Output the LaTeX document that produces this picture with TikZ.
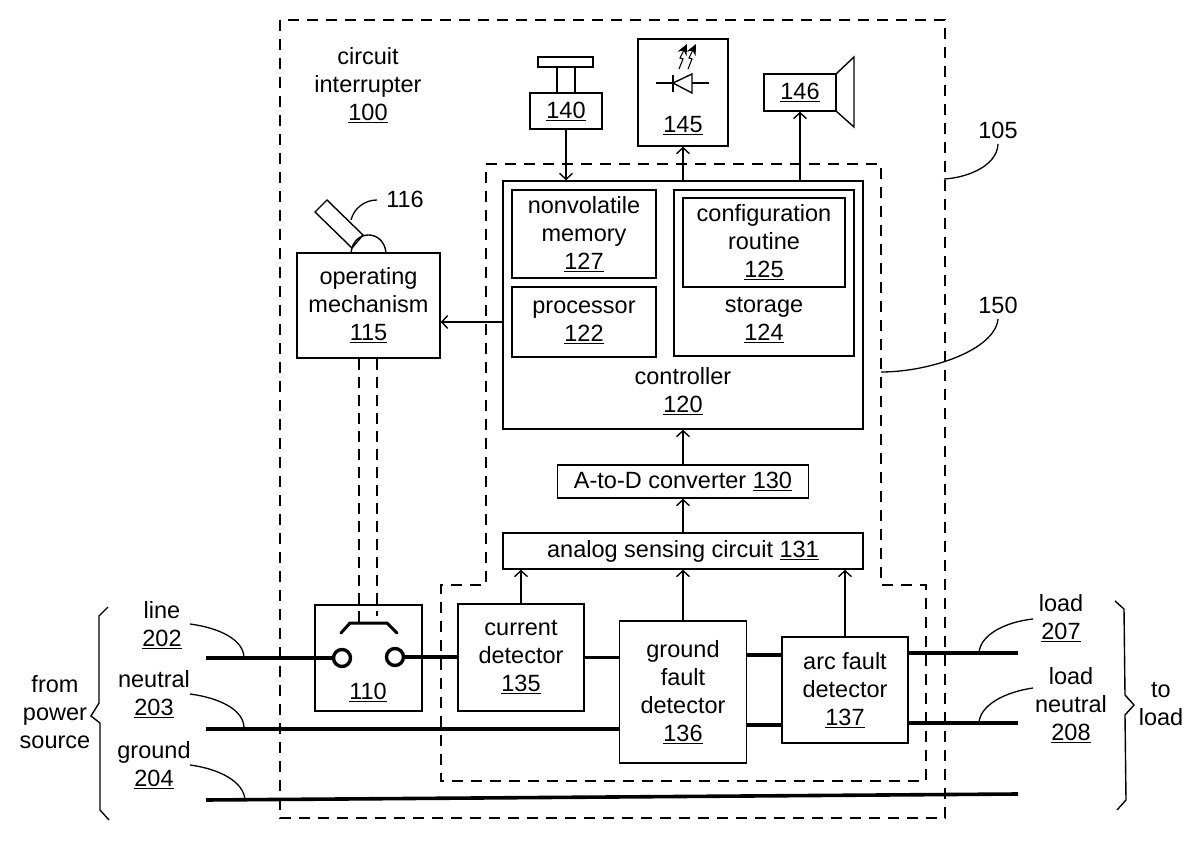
\documentclass[tikz,border=0pt]{standalone}
\usepackage{fontspec}
\setmainfont{Liberation Sans}
\usetikzlibrary{arrows.meta}
\tikzset{
  unit/.style={draw, line width=1.5pt, align=center, inner sep=0pt,
    font=\fontsize{23.5}{28}\selectfont},
  caption/.style={align=center, inner sep=0pt, font=\fontsize{23.5}{28}\selectfont},
  link/.style={line width=1.4pt, -{Straight Barb[length=6pt,width=13pt,line width=1.4pt]}},
  wire/.style={line width=3.6pt},
  leader/.style={line width=1.3pt},
  frame/.style={line width=1.5pt, dash pattern=on 11pt off 8pt},
  contact/.style={circle, draw, line width=3.4pt, fill=white, minimum size=17pt, inner sep=0pt},
  brace/.style={line width=1.4pt}
}
\begin{document}
\begin{tikzpicture}[x=1pt, y=-1pt]
  \useasboundingbox (0,0) rectangle (1200,866);

  % Dashed enclosures
  \draw[frame] (280,20) rectangle (945,818);
  \draw[frame] (486,164) -- (881,164) -- (881,585) -- (926,585) -- (926,781)
    -- (441,781) -- (441,585) -- (486,585) -- cycle;

  % Outside of the controller
  \node[unit, minimum width=72pt, minimum height=36pt] (button) at (566,111) {\underline{140}};
  \node[unit, minimum width=90pt, minimum height=107pt] (led) at (683,92.5) {};
  \node[caption] (ledlabel) at (683,126) {\underline{145}};
  \node[unit, minimum width=72pt, minimum height=37pt] (speaker) at (800,92.5) {\underline{146}};

  % Button cap
  \draw[line width=1.4pt] (538,57) rectangle (593,67);
  \draw[line width=1.4pt] (557,67) -- (557,93) (575,67) -- (575,93);

  % Diode with light
  \draw[line width=1.4pt] (656,83) -- (709,83);
  \draw[line width=1.4pt, fill=white] (673,83) -- (692,74) -- (692,93) -- cycle;
  \draw[line width=1.4pt] (673,75) -- (673,92);
  \foreach \sx in {0,9}
    \draw[line width=1.1pt, -{Stealth[length=11pt,width=10pt]}, xshift=\sx pt]
      (679,69) -- (683,59) -- (680,58) -- (687,44);

  % Speaker cone
  \draw[line width=1.4pt] (836,74) -- (854,57) -- (854,127) -- (836,111);

  % Controller
  \node[unit, minimum width=360pt, minimum height=248pt] (controller) at (683,305) {};
  \node[caption] (controllerlabel) at (683,391) {controller\\\underline{120}};
  \node[unit, minimum width=144pt, minimum height=88pt] (memory) at (584,234)
    {nonvolatile\\memory\\\underline{127}};
  \node[unit, minimum width=144pt, minimum height=70pt] (processor) at (584,322)
    {processor\\\underline{122}};
  \node[unit, minimum width=180pt, minimum height=166pt] (storage) at (764,273) {};
  \node[caption] (storagelabel) at (764,320) {storage\\\underline{124}};
  \node[unit, minimum width=162pt, minimum height=89pt] (routine) at (764,242.5)
    {configuration\\routine\\\underline{125}};

  % Sensing chain
  \node[unit, minimum width=251pt, minimum height=33pt] (converter) at (683,481.5)
    {A-to-D converter \underline{130}};
  \node[unit, minimum width=360pt, minimum height=36pt] (analog) at (683,551)
    {analog sensing circuit \underline{131}};
  \node[unit, minimum width=126pt, minimum height=107pt] (current) at (521,657.5)
    {current\\detector\\\underline{135}};
  \node[unit, minimum width=127pt, minimum height=142pt] (gfault) at (683,692)
    {ground\\fault\\detector\\\underline{136}};
  \node[unit, minimum width=126pt, minimum height=106pt] (afault) at (845,690)
    {arc fault\\detector\\\underline{137}};

  % Mechanism and lever
  \node[unit, minimum width=143pt, minimum height=105pt] (mechanism) at (368.5,305.5)
    {operating\\mechanism\\\underline{115}};
  \draw[line width=1.4pt] (315,212) -- (327,200) -- (363,235) -- (352,248) -- cycle;
  \draw[line width=1.4pt] (351,253) .. controls (353,229) and (384,229) .. (386,253);

  % Switch
  \node[unit, minimum width=107pt, minimum height=106pt] (switch) at (368.5,658) {};
  \node[caption] (switchlabel) at (368,692) {\underline{110}};
  \node[contact] (contactin) at (342,658) {};
  \node[contact] (contactout) at (395,657) {};
  \draw[line width=3pt, line cap=round] (341,633) -- (350,623) -- (387,623) -- (397,633);
  \coordinate (bladeleft) at (359,623);
  \coordinate (bladeright) at (377,616);
  \draw[line width=1.3pt, dash pattern=on 11pt off 7pt] (mechanism.south -| bladeleft) -- (bladeleft);
  \draw[line width=1.3pt, dash pattern=on 11pt off 7pt] (mechanism.south -| bladeright) -- (bladeright);

  % Arrows
  \draw[link] (button.south) -- (button.south |- controller.north);
  \draw[link] (controller.north -| led.south) -- (led.south);
  \draw[link] (controller.north -| speaker.south) -- (speaker.south);
  \draw[link] (controller.west |- processor.west) -- (mechanism.east |- processor.west);
  \draw[link] (converter.north) -- (controller.south);
  \draw[link] (analog.north) -- (converter.south);
  \draw[link] (current.north) -- (current.north |- analog.south);
  \draw[link] (gfault.north) -- (gfault.north |- analog.south);
  \draw[link] (afault.north) -- (afault.north |- analog.south);

  % Line conductors
  \coordinate (linein) at (206,658);
  \coordinate (linemid) at (765,655);
  \coordinate (lineout) at (1018,653);
  \coordinate (neutralin) at (206,729);
  \coordinate (neutralmid) at (765,725);
  \coordinate (neutralout) at (1018,723);
  \coordinate (groundin) at (206,800);
  \coordinate (groundout) at (1018,794);
  \draw[wire] (linein) -- (contactin);
  \draw[wire] (contactout) -- (current.west |- contactout);
  \draw[wire] (current.east) -- (gfault.west |- current.east);
  \draw[wire] (gfault.east |- linemid) -- (afault.west |- linemid);
  \draw[wire] (afault.east |- lineout) -- (lineout);
  \draw[wire] (neutralin) -- (neutralin -| gfault.west);
  \draw[wire] (gfault.east |- neutralmid) -- (afault.west |- neutralmid);
  \draw[wire] (afault.east |- neutralout) -- (neutralout);
  \draw[wire] (groundin) -- (groundout);

  % Labels
  \node[caption] (title) at (368,85) {circuit\\interrupter\\\underline{100}};
  \node[caption] (lever) at (405,199) {116};
  \node[caption] (outerref) at (998,130) {105};
  \node[caption] (innerref) at (998,305) {150};
  \node[caption] (linelabel) at (162,625) {line\\\underline{202}};
  \node[caption] (neutrallabel) at (154,694) {neutral\\\underline{203}};
  \node[caption] (groundlabel) at (154,765) {ground\\\underline{204}};
  \node[caption] (source) at (55,712) {from\\power\\source};
  \node[caption] (loadlabel) at (1061,618) {load\\\underline{207}};
  \node[caption] (loadneutral) at (1071,705) {load\\neutral\\\underline{208}};
  \node[caption] (toload) at (1161,704) {to\\load};

  % Leaders
  \draw[leader] (190,624) .. controls (220,628) and (244,640) .. (244,658);
  \draw[leader] (190,694) .. controls (220,698) and (244,710) .. (244,728);
  \draw[leader] (190,765) .. controls (220,769) and (244,782) .. (245,800);
  \draw[leader] (1033,619) .. controls (1005,622) and (980,635) .. (979,653);
  \draw[leader] (1033,688) .. controls (1005,692) and (980,705) .. (979,723);
  \draw[leader] (944,179) .. controls (965,178) and (997,167) .. (998,144);
  \draw[leader] (881,372) .. controls (930,372) and (995,350) .. (998,319);
  \draw[leader] (351,220) .. controls (354,208) and (365,200) .. (377,200);

  % Braces
  \draw[brace] (108,607) -- (99,616) -- (99,703) -- (91,716) -- (100,723) -- (100,810) -- (109,820);
  \draw[brace] (1115,601) -- (1124,609) -- (1125,695) -- (1134,705) -- (1125,715) -- (1126,800) -- (1117,810);
\end{tikzpicture}
\end{document}
